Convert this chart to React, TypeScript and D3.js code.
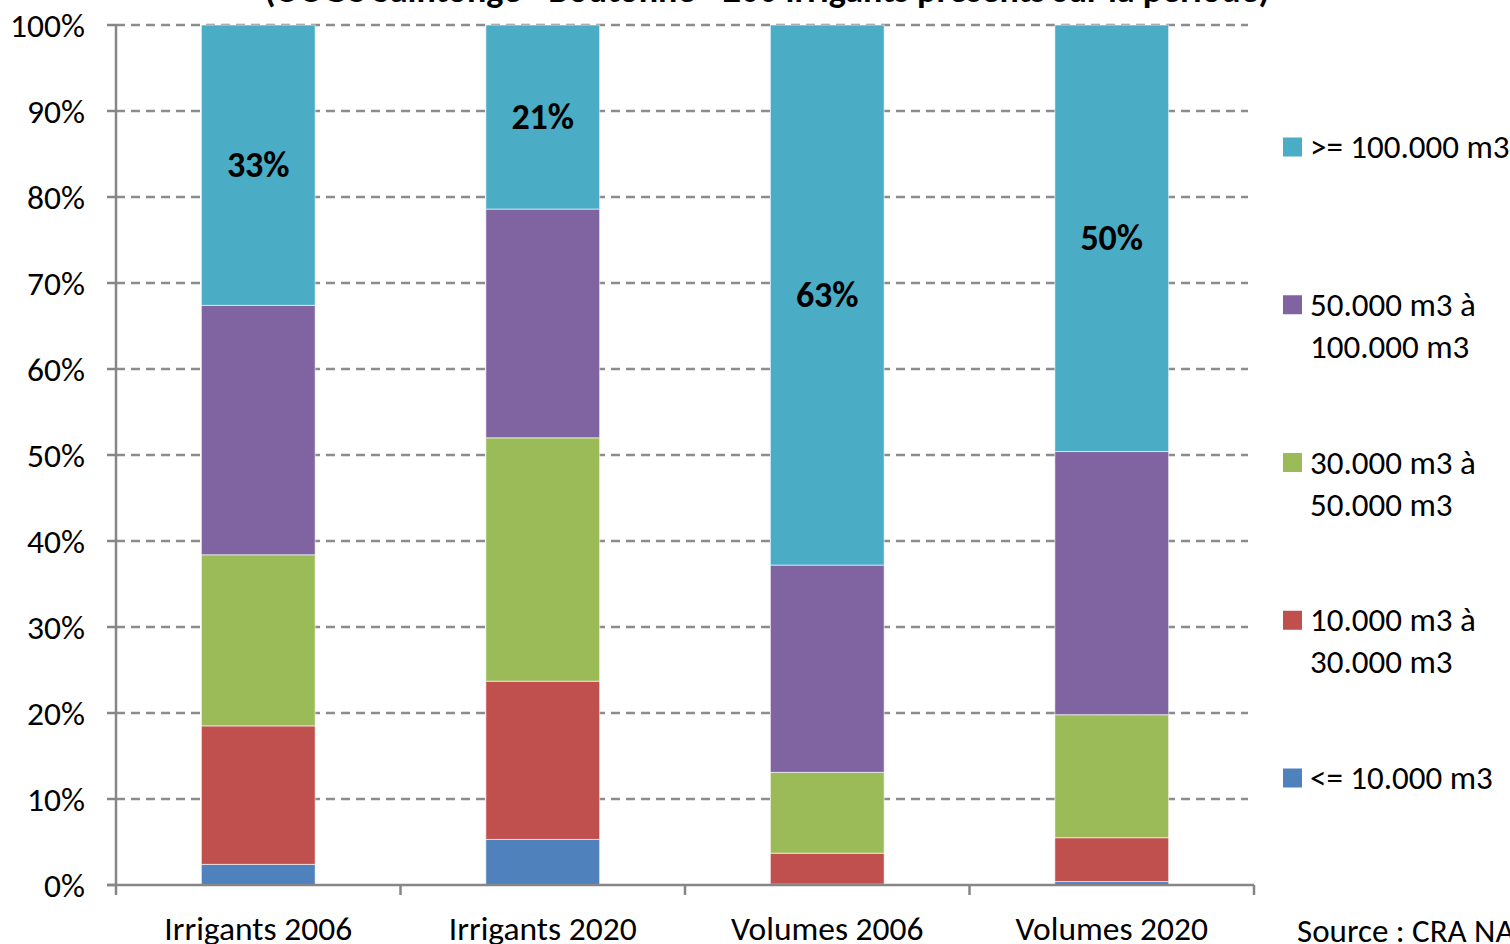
import React from "react";
import * as d3 from "d3";

// Categories (bars) and stacked series shares, in percent
const categories = ["Irrigants 2006", "Irrigants 2020", "Volumes 2006", "Volumes 2020"];
const seriesNames = [
  "<= 10.000 m3",
  "10.000 m3 à 30.000 m3",
  "30.000 m3 à 50.000 m3",
  "50.000 m3 à 100.000 m3",
  ">= 100.000 m3",
];
const lowVolume = [2.4, 5.3, 0.1, 0.4];
const volume10to30 = [16.1, 18.4, 3.6, 5.1];
const volume30to50 = [19.9, 28.3, 9.4, 14.3];
const volume50to100 = [29.0, 26.6, 24.1, 30.6];
const highVolume = [32.6, 21.4, 62.8, 49.6];
const seriesValues = [lowVolume, volume10to30, volume30to50, volume50to100, highVolume];
const seriesColors = ["#4F81BD", "#C0504D", "#9BBB59", "#8064A2", "#4BACC6"];
const legendLines = [
  [">= 100.000 m3"],
  ["50.000 m3 à", "100.000 m3"],
  ["30.000 m3 à", "50.000 m3"],
  ["10.000 m3 à", "30.000 m3"],
  ["<= 10.000 m3"],
];
const yTicks = [0, 10, 20, 30, 40, 50, 60, 70, 80, 90, 100];
const title = "(OUGC Saintonge - Boutonne - 200 irrigants présents sur la période)";
const source = "Source : CRA NA";

const FONT = "Carlito, Calibri, 'Open Sans', sans-serif";

export default function App() {
  const W = 1510;
  const H = 944;
  const left = 116;
  const right = 1254;
  const top = 25;
  const bottom = 885;

  const x = d3.scaleBand<string>().domain(categories).range([left, right]).paddingInner(0.6).paddingOuter(0.3);
  const y = d3.scaleLinear().domain([0, 100]).range([bottom, top]);

  const table = categories.map((c, i) => {
    const row: Record<string, number | string> = { category: c };
    seriesNames.forEach((s, k) => (row[s] = seriesValues[k][i]));
    return row;
  });
  const stacked = d3.stack<Record<string, number | string>>().keys(seriesNames)(table as any);

  const step = (right - left) / categories.length;
  const boundaries = d3.range(categories.length + 1).map((i) => left + i * step);

  return (
    <svg
      width={W}
      height={H}
      style={{ position: "absolute", left: 0, top: 0, background: "#fff" }}
      fontFamily={FONT}
    >
      <text x={767} y={2} textAnchor="middle" fontSize={36} fontWeight="bold" fill="#000">
        {title}
      </text>

      {/* horizontal dashed gridlines */}
      {yTicks.filter((t) => t > 0).map((t) => (
        <line
          key={t}
          x1={left}
          x2={1248}
          y1={y(t)}
          y2={y(t)}
          stroke="#8c8c8c"
          strokeWidth={2.5}
          strokeDasharray="9,6"
        />
      ))}

      {/* stacked bars */}
      {stacked.map((layer, k) =>
        layer.map((d, i) => (
          <rect
            key={`${k}-${i}`}
            x={x(categories[i])}
            width={x.bandwidth()}
            y={y(d[1])}
            height={Math.max(0, y(d[0]) - y(d[1]))}
            fill={seriesColors[k]}
            stroke="#ffffff"
            strokeOpacity={0.6}
            strokeWidth={1}
          />
        ))
      )}

      {/* value labels for the top series */}
      {stacked[4].map((d, i) => (
        <text
          key={i}
          x={(x(categories[i]) as number) + x.bandwidth() / 2}
          y={(y(d[0]) + y(d[1])) / 2}
          textAnchor="middle"
          dominantBaseline="central"
          fontSize={36}
          fontWeight="bold"
          fill="#000"
        >
          {`${Math.round(highVolume[i])}%`}
        </text>
      ))}

      {/* y axis */}
      <line x1={left} x2={left} y1={top} y2={bottom} stroke="#868686" strokeWidth={2.5} />
      {yTicks.map((t) => (
        <g key={t}>
          <line x1={left - 9} x2={left} y1={y(t)} y2={y(t)} stroke="#868686" strokeWidth={2.5} />
          <text x={85} y={y(t)} textAnchor="end" dominantBaseline="central" fontSize={33.5} fill="#000">
            {`${t}%`}
          </text>
        </g>
      ))}

      {/* x axis */}
      <line x1={left - 9} x2={right} y1={bottom} y2={bottom} stroke="#868686" strokeWidth={2.5} />
      {boundaries.map((b, i) => (
        <line key={i} x1={b} x2={b} y1={bottom} y2={bottom + 10} stroke="#868686" strokeWidth={2.5} />
      ))}
      {categories.map((c) => (
        <text
          key={c}
          x={(x(c) as number) + x.bandwidth() / 2}
          y={940}
          textAnchor="middle"
          fontSize={33.5}
          fill="#000"
        >
          {c}
        </text>
      ))}

      {/* legend */}
      {legendLines.map((lines, i) => {
        const yc = 147 + i * 157.75;
        return (
          <g key={i}>
            <rect x={1283} y={yc - 9.5} width={19} height={19} fill={seriesColors[4 - i]} />
            {lines.map((ln, j) => (
              <text key={j} x={1310} y={yc + j * 42} dominantBaseline="central" fontSize={33} fill="#000">
                {ln}
              </text>
            ))}
          </g>
        );
      })}

      <text x={1297} y={942} fontSize={33} fill="#000">
        {source}
      </text>
    </svg>
  );
}
